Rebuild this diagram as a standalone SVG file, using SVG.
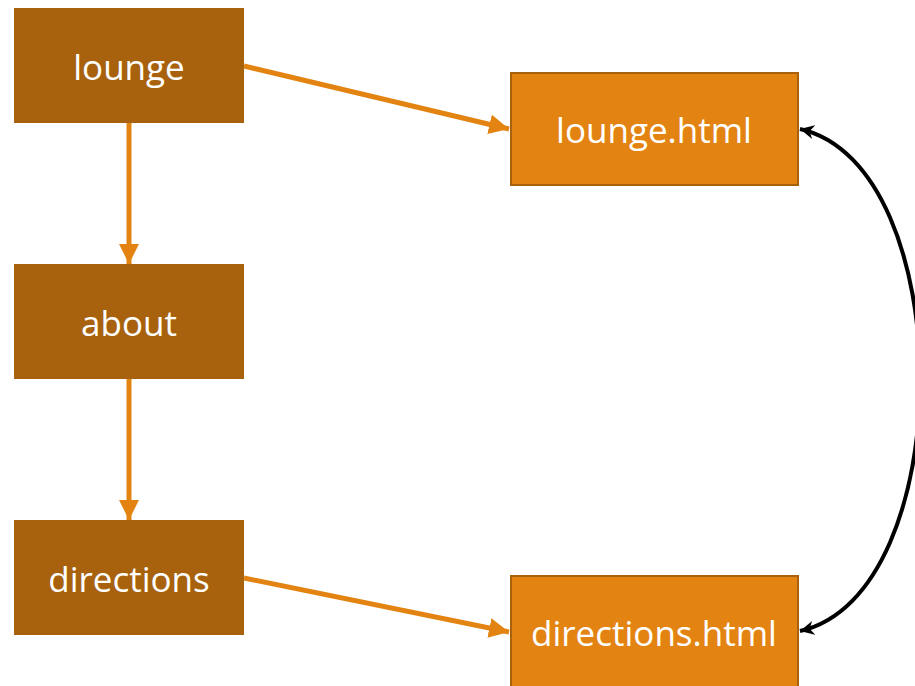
<svg xmlns="http://www.w3.org/2000/svg" width="915" height="686" viewBox="0 0 915 686">
<style>
.dark{fill:#A8620E;stroke:#A8620E;stroke-width:1}
.light{fill:#E38412;stroke:#A8620E;stroke-width:2}
.lbl{font-family:"Open Sans","Noto Sans",sans-serif;font-size:35px;fill:#ffffff;text-anchor:middle}
.oc{stroke:#E38412;stroke-width:5;fill:none}
.bc{stroke:#000;stroke-width:4;fill:none}
</style>
<defs>
<marker id="oa" viewBox="0 0 10 10" refX="10" refY="5" markerWidth="4" markerHeight="4" orient="auto" markerUnits="strokeWidth">
<path d="M0,0 L10,5 L0,10 z" fill="#E38412"/>
</marker>
<marker id="ba" viewBox="0 0 10 10" refX="10" refY="5" markerWidth="3.5" markerHeight="3.5" orient="auto-start-reverse" markerUnits="strokeWidth">
<path d="M0,0 L10,5 L0,10 L3,5 z" fill="#000"/>
</marker>
</defs>
<g id="connectors">
<line class="oc" x1="244" y1="66" x2="509" y2="129" marker-end="url(#oa)"/>
<line class="oc" x1="129" y1="122" x2="129" y2="264" marker-end="url(#oa)"/>
<line class="oc" x1="129" y1="378" x2="129" y2="520" marker-end="url(#oa)"/>
<line class="oc" x1="244" y1="578" x2="509" y2="632" marker-end="url(#oa)"/>
<path class="bc" d="M800,129 C960,165 960,595 800,631" marker-start="url(#ba)" marker-end="url(#ba)"/>
</g>
<g id="lounge">
<rect class="dark" x="14.5" y="8.5" width="229" height="114"/>
<text class="lbl" x="129" y="80">lounge</text>
</g>
<g id="about">
<rect class="dark" x="14.5" y="264.5" width="229" height="114"/>
<text class="lbl" x="129" y="336">about</text>
</g>
<g id="directions">
<rect class="dark" x="14.5" y="520.5" width="229" height="114"/>
<text class="lbl" x="129" y="592">directions</text>
</g>
<g id="lounge-html">
<rect class="light" x="511" y="73" width="287" height="112"/>
<text class="lbl" x="654" y="143">lounge.html</text>
</g>
<g id="directions-html">
<rect class="light" x="511" y="576" width="287" height="120"/>
<text class="lbl" x="654" y="646">directions.html</text>
</g>
</svg>
